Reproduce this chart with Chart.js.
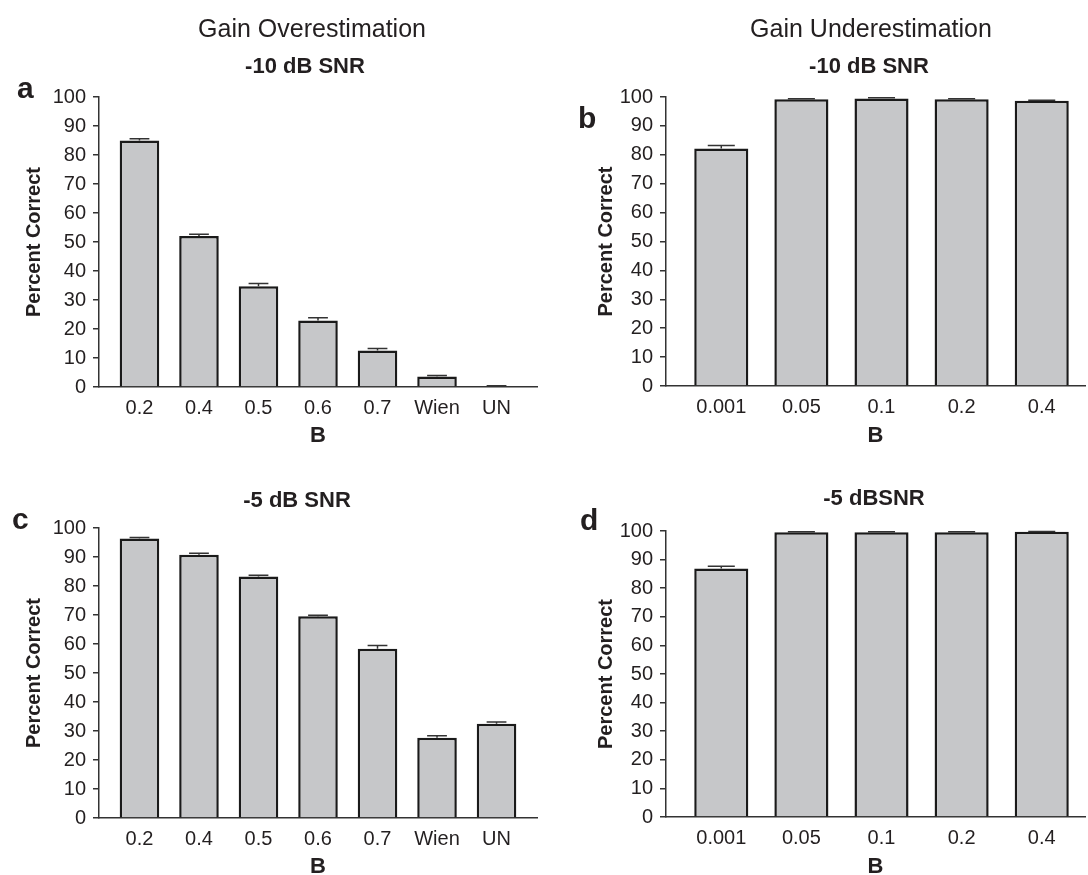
<!DOCTYPE html>
<html>
<head>
<meta charset="utf-8">
<script src="https://cdn.jsdelivr.net/npm/chart.js@4.4.1/dist/chart.umd.min.js"></script>
<style>
  html, body { margin: 0; padding: 0; background: #fff; overflow: hidden; }
  body { width: 1088px; height: 875px; position: relative; }
  canvas { position: absolute; }
</style>
</head>
<body>
<canvas id="pa" width="544" height="460" style="left:0;top:0"></canvas>
<canvas id="pb" width="544" height="460" style="left:544px;top:0"></canvas>
<canvas id="pc" width="544" height="460" style="left:0;top:431px"></canvas>
<canvas id="pd" width="544" height="460" style="left:544px;top:431px"></canvas>
<script>
// categories
const overLabels = ['0.2', '0.4', '0.5', '0.6', '0.7', 'Wien', 'UN'];
const underLabels = ['0.001', '0.05', '0.1', '0.2', '0.4'];

// percent correct, with the upper error bar size
const overMinus10 = [85.0, 52.1, 34.7, 22.9, 12.6, 3.6, 0.3];
const overMinus10Err = [0.6, 0.6, 1.0, 1.0, 0.7, 0.4, 0.1];
const underMinus10 = [82.2, 99.2, 99.5, 99.2, 98.7];
const underMinus10Err = [1.0, 0.2, 0.2, 0.2, 0.2];
const overMinus5 = [96.4, 90.8, 83.3, 69.6, 58.4, 27.7, 32.5];
const overMinus5Err = [0.3, 0.5, 0.4, 0.3, 1.1, 0.7, 0.6];
const underMinus5 = [86.9, 99.6, 99.6, 99.6, 99.7];
const underMinus5Err = [0.8, 0.1, 0.1, 0.1, 0.1];

const INK = '#231f20';
const AXIS = '#333333';
const BAR_FILL = '#c6c7c9';

Chart.defaults.font.family = '"Liberation Sans", Arial, Helvetica, sans-serif';
Chart.defaults.color = INK;

const errorBars = {
  id: 'errorBars',
  afterDatasetsDraw(chart) {
    const ctx = chart.ctx;
    const y = chart.scales.y;
    const ds = chart.data.datasets[0];
    const meta = chart.getDatasetMeta(0);
    ctx.save();
    ctx.strokeStyle = AXIS;
    ctx.lineWidth = 1.5;
    meta.data.forEach((bar, i) => {
      const v = ds.data[i].y;
      const top = y.getPixelForValue(v);
      const cap = y.getPixelForValue(v + ds.errors[i]);
      const half = bar.width * 0.25;
      ctx.beginPath();
      ctx.moveTo(bar.x, top);
      ctx.lineTo(bar.x, cap);
      ctx.moveTo(bar.x - half, cap);
      ctx.lineTo(bar.x + half, cap);
      ctx.stroke();
    });
    ctx.restore();
  }
};

const panelText = {
  id: 'panelText',
  afterDraw(chart, args, opts) {
    const ctx = chart.ctx;
    ctx.save();
    ctx.fillStyle = INK;
    ctx.textBaseline = 'alphabetic';
    const fam = Chart.defaults.font.family;
    if (opts.heading) {
      ctx.font = '25px ' + fam;
      ctx.textAlign = 'center';
      ctx.fillText(opts.heading, opts.headingX, opts.headingY);
    }
    ctx.font = 'bold 22px ' + fam;
    ctx.textAlign = 'center';
    ctx.fillText(opts.sub, opts.subX, opts.subY);
    ctx.font = 'bold 30px ' + fam;
    ctx.textAlign = 'left';
    ctx.fillText(opts.letter, opts.letterX, opts.letterY);
    ctx.restore();
  }
};

function makePanel(p) {
  const cv = document.getElementById(p.id);
  const W = cv.width, H = cv.height;
  const yWidth = p.area.left - p.yTitleLeft;
  return new Chart(cv, {
    type: 'bar',
    data: {
      datasets: [{
        data: p.values.map((v, i) => ({ x: i, y: v })),
        errors: p.errors,
        backgroundColor: BAR_FILL,
        borderColor: '#1a1a1a',
        borderWidth: 2.5,
        categoryPercentage: 1,
        barPercentage: p.barPct
      }]
    },
    options: {
      responsive: false,
      animation: false,
      events: [],
      layout: {
        padding: {
          left: p.yTitleLeft,
          right: W - p.area.right,
          top: p.area.top,
          bottom: H - p.area.bottom - p.xHeight
        }
      },
      plugins: {
        legend: { display: false },
        tooltip: { enabled: false },
        panelText: p.text
      },
      scales: {
        x: {
          type: 'linear',
          offset: false,
          min: -p.padL,
          max: p.labels.length - 1 + p.padR,
          grid: { display: false, drawTicks: false },
          border: { color: AXIS, width: 1.5 },
          afterBuildTicks: s => { s.ticks = p.labels.map((_, i) => ({ value: i })); },
          afterFit: s => { s.height = p.xHeight; },
          ticks: {
            callback: v => p.labels[v],
            autoSkip: false,
            maxRotation: 0,
            color: INK,
            font: { size: 20 },
            padding: 9
          },
          title: {
            display: true,
            text: 'B',
            color: INK,
            font: { size: 22, weight: 'bold' },
            padding: { top: 0, bottom: 4 }
          }
        },
        y: {
          min: 0,
          max: 100,
          ticks: { stepSize: 10, color: INK, font: { size: 20 }, padding: 7 },
          grid: { drawOnChartArea: false, tickLength: 6, color: AXIS, lineWidth: 1.5 },
          border: { color: AXIS, width: 1.5 },
          afterFit: s => { s.width = yWidth; },
          title: {
            display: true,
            text: 'Percent Correct',
            color: INK,
            font: { size: 20, weight: 'bold' },
            padding: { top: 4, bottom: 4 }
          }
        }
      }
    },
    plugins: [errorBars, panelText]
  });
}

makePanel({
  id: 'pa', labels: overLabels, values: overMinus10, errors: overMinus10Err,
  area: { left: 99, right: 537, top: 97, bottom: 387 },
  yTitleLeft: 18, xHeight: 66, padL: 0.68, padR: 0.68, barPct: 0.665,
  text: { heading: 'Gain Overestimation', headingX: 312, headingY: 37,
          sub: '-10 dB SNR', subX: 305, subY: 73, letter: 'a', letterX: 17, letterY: 98 }
});
makePanel({
  id: 'pb', labels: underLabels, values: underMinus10, errors: underMinus10Err,
  area: { left: 122, right: 541, top: 97, bottom: 386 },
  yTitleLeft: 46, xHeight: 67, padL: 0.69, padR: 0.54, barPct: 0.675,
  text: { heading: 'Gain Underestimation', headingX: 327, headingY: 37,
          sub: '-10 dB SNR', subX: 325, subY: 73, letter: 'b', letterX: 34, letterY: 128 }
});
makePanel({
  id: 'pc', labels: overLabels, values: overMinus5, errors: overMinus5Err,
  area: { left: 99, right: 537, top: 97, bottom: 387 },
  yTitleLeft: 18, xHeight: 66, padL: 0.68, padR: 0.68, barPct: 0.665,
  text: { sub: '-5 dB SNR', subX: 297, subY: 76, letter: 'c', letterX: 12, letterY: 98 }
});
makePanel({
  id: 'pd', labels: underLabels, values: underMinus5, errors: underMinus5Err,
  area: { left: 122, right: 541, top: 100, bottom: 386 },
  yTitleLeft: 46, xHeight: 67, padL: 0.69, padR: 0.54, barPct: 0.675,
  text: { sub: '-5 dBSNR', subX: 330, subY: 74, letter: 'd', letterX: 36, letterY: 99 }
});
</script>
</body>
</html>
